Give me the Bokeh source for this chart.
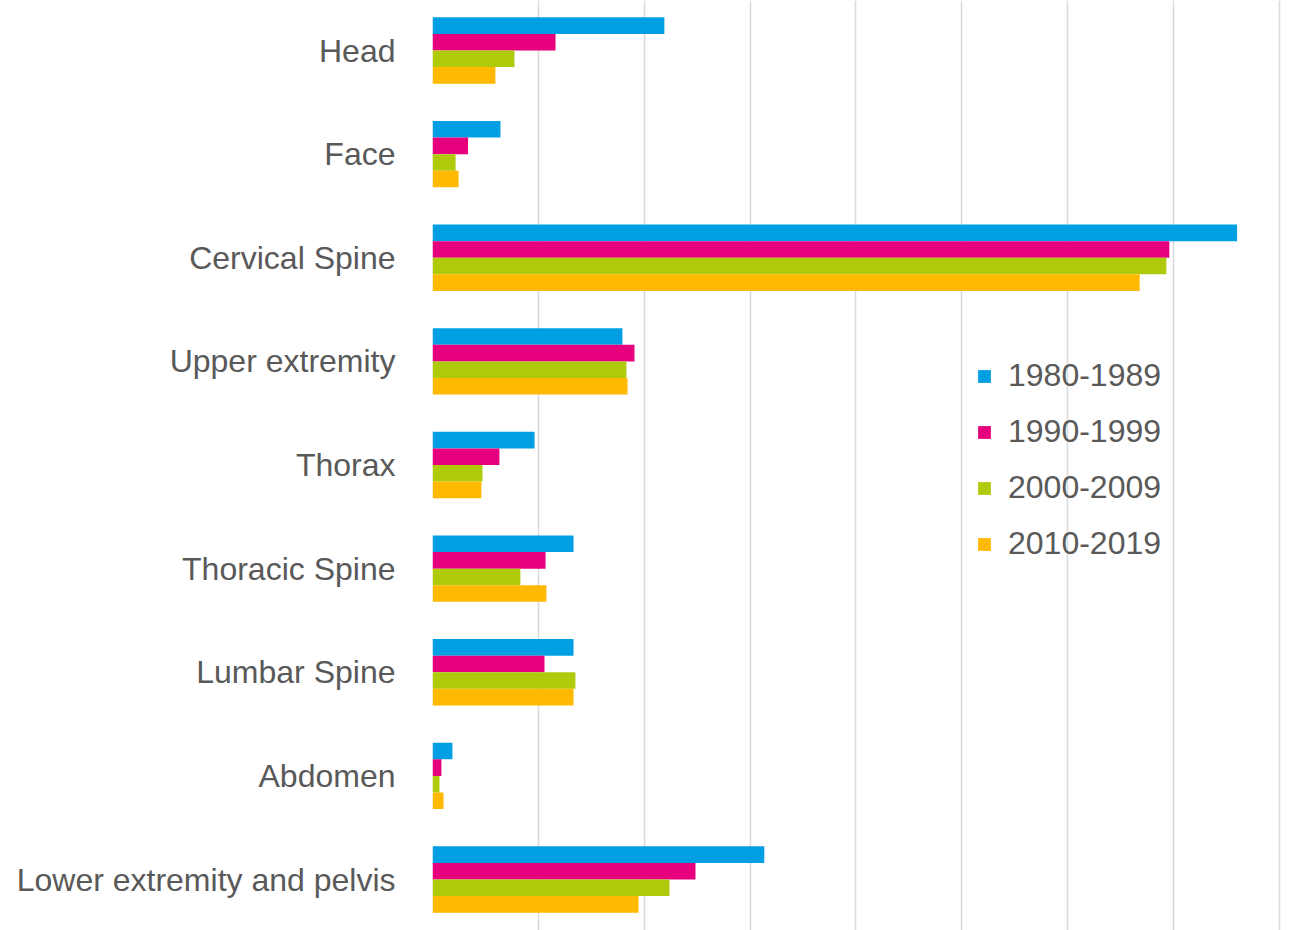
from bokeh.plotting import figure
from bokeh.models import ColumnDataSource, Range1d, FixedTicker, Legend
from bokeh.transform import dodge
from bokeh.embed import file_html
from bokeh.resources import INLINE

categories = ["Head", "Face", "Cervical Spine", "Upper extremity", "Thorax",
              "Thoracic Spine", "Lumbar Spine", "Abdomen", "Lower extremity and pelvis"]
series = ["1980-1989", "1990-1999", "2000-2009", "2010-2019"]
v1980 = [10.95, 3.21, 38.0, 8.97, 4.82, 6.66, 6.66, 0.94, 15.67]
v1990 = [5.81, 1.68, 34.8, 9.54, 3.16, 5.34, 5.29, 0.42, 12.42]
v2000 = [3.87, 1.09, 34.66, 9.16, 2.36, 4.15, 6.75, 0.33, 11.19]
v2010 = [2.97, 1.23, 33.4, 9.21, 2.31, 5.38, 6.66, 0.52, 9.73]
colors = ["#009FE3", "#E6007E", "#AFCA0B", "#FFB900"]
grid_ticks = [0, 5, 10, 15, 20, 25, 30, 35, 40]

idx = list(range(len(categories)))
src = ColumnDataSource(dict(y=idx, a=v1980, b=v1990, c=v2000, d=v2010))

p = figure(width=1298, height=930, output_backend="svg", toolbar_location=None,
           x_range=Range1d(0, 40.9), y_range=Range1d(8.492, -0.4825),
           min_border_left=432, min_border_right=0, min_border_top=0, min_border_bottom=0)
p.outline_line_color = None
p.background_fill_color = "white"
p.border_fill_color = "white"

offsets = [-0.24, -0.08, 0.08, 0.24]
renderers = []
for col, off, colr, name in zip(["a", "b", "c", "d"], offsets, colors, series):
    r = p.hbar(y=dodge("y", off, range=p.y_range), right=col, left=0, height=0.16,
               source=src, fill_color=colr, line_color=None)
    renderers.append((name, [r]))

p.xaxis.visible = False
p.xgrid.ticker = FixedTicker(ticks=grid_ticks)
p.xgrid.grid_line_color = "#d9d9d9"
p.xgrid.grid_line_width = 1.5
p.ygrid.grid_line_color = None

p.yaxis.ticker = FixedTicker(ticks=idx)
p.yaxis.major_label_overrides = {i: c for i, c in zip(idx, categories)}
p.yaxis.major_label_text_font = "Liberation Sans"
p.yaxis.major_label_text_font_size = "32px"
p.yaxis.major_label_text_color = "#595959"
p.yaxis.major_label_standoff = 37
p.yaxis.major_tick_out = 0
p.yaxis.major_tick_in = 0
p.yaxis.minor_tick_out = 0
p.yaxis.minor_tick_in = 0
p.yaxis.axis_line_color = None

legend = Legend(items=renderers, location=(544, 368))
legend.border_line_color = None
legend.background_fill_alpha = 0
legend.padding = 0
legend.margin = 0
legend.glyph_width = 16
legend.glyph_height = 16
legend.label_standoff = 16
legend.spacing = 19
legend.label_text_font = "Liberation Sans"
legend.label_text_font_size = "32px"
legend.label_text_color = "#595959"
p.add_layout(legend, "center")

open("out.html", "w").write(file_html(p, INLINE))
